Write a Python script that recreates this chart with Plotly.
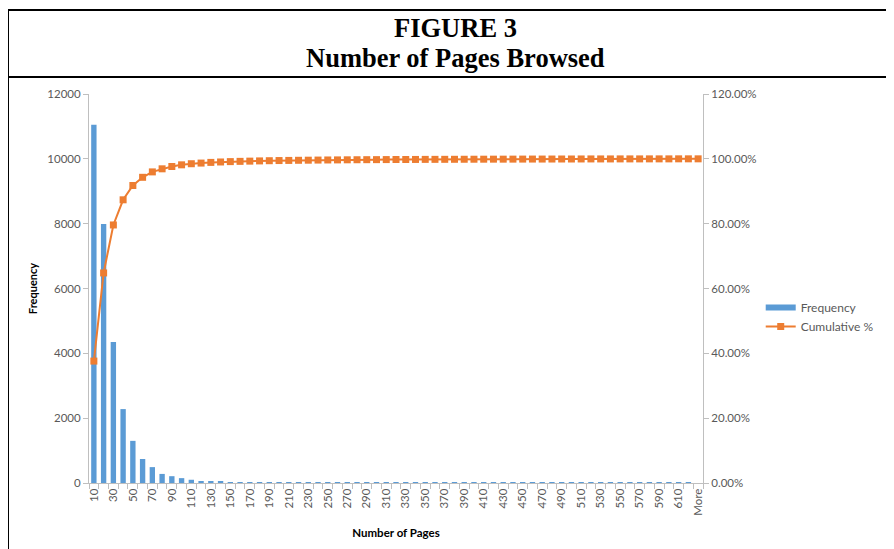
import plotly.graph_objects as go

categories = [str(v) for v in range(10, 630, 10)] + ["More"]

frequency = [11050, 7990, 4350, 2280, 1300, 740, 490, 280, 210, 150,
             100, 60, 60, 40, 30, 25, 20, 20, 18, 15,
             12, 12, 10, 10, 8, 8, 7, 6, 6, 5,
             5, 4, 4, 4, 4, 3, 3, 3, 3, 3,
             3, 3, 2, 2, 2, 2, 2, 2, 2, 2,
             2, 2, 1, 1, 1, 1, 1, 1, 1, 1,
             1, 1, 0]

cumulative_pct = [37.61, 64.80, 79.60, 87.36, 91.78, 94.30, 95.97, 96.92, 97.64, 98.15,
                  98.49, 98.69, 98.90, 99.03, 99.14, 99.22, 99.29, 99.36, 99.42, 99.47,
                  99.51, 99.55, 99.58, 99.62, 99.65, 99.67, 99.70, 99.72, 99.74, 99.75,
                  99.77, 99.79, 99.80, 99.81, 99.83, 99.84, 99.85, 99.86, 99.87, 99.88,
                  99.89, 99.90, 99.90, 99.91, 99.92, 99.93, 99.93, 99.94, 99.95, 99.95,
                  99.96, 99.97, 99.97, 99.97, 99.98, 99.98, 99.98, 99.99, 99.99, 99.99,
                  100.00, 100.00, 100.00]

tick_text = [c if i % 2 == 0 else "" for i, c in enumerate(categories)]

FONT = "Lato, 'Open Sans', sans-serif"
GREY_TXT = "#595959"
AXIS_COL = "#bfbfbf"
BLUE = "#5B9BD5"
ORANGE = "#ED7D31"

# page offset (body margin) compensation
OFF = 8
PL, PR, PT, PB = 89 - OFF, 703 - OFF, 94 - OFF, 483 - OFF
W, H = 894, 549

fig = go.Figure()
fig.add_trace(go.Bar(
    x=categories, y=frequency, name="Frequency",
    marker=dict(color=BLUE, line=dict(width=0)),
    yaxis="y", showlegend=False,
))
# legend entry for the bars (wide rectangle swatch, as in the original)
fig.add_trace(go.Scatter(
    x=[None], y=[None], name="Frequency", mode="lines",
    line=dict(color=BLUE, width=6), yaxis="y", hoverinfo="skip",
))
fig.add_trace(go.Scatter(
    x=categories, y=[v / 100 for v in cumulative_pct], name="Cumulative %",
    mode="lines+markers",
    line=dict(color=ORANGE, width=2),
    marker=dict(symbol="square", size=7, color=ORANGE),
    yaxis="y2",
))

fig.update_layout(
    width=W, height=H,
    margin=dict(l=PL, r=W - PR, t=PT, b=H - PB, autoexpand=False),
    paper_bgcolor="white", plot_bgcolor="white",
    bargap=0.45,
    font=dict(family=FONT, size=11, color=GREY_TXT),
    xaxis=dict(
        type="category", range=[-0.5, len(categories) - 0.5],
        tickmode="array", tickvals=categories, ticktext=tick_text,
        tickangle=-90, tickson="boundaries",
        ticks="outside", ticklen=5, tickcolor=AXIS_COL,
        showline=True, linecolor=AXIS_COL, linewidth=1,
        showgrid=False, zeroline=False,
        tickfont=dict(size=11.5, color=GREY_TXT),
        title=dict(text="<b>Number of Pages</b>", font=dict(size=11.5, color="#000000"), standoff=14),
    ),
    yaxis=dict(
        range=[0, 12000], dtick=2000, tickformat="d",
        ticks="outside", ticklen=5, tickcolor=AXIS_COL,
        showline=True, linecolor=AXIS_COL, linewidth=1,
        showgrid=False, zeroline=False,
        tickfont=dict(size=11.5, color=GREY_TXT),
        title=dict(text="<b>Frequency</b>", font=dict(size=11, color="#000000"), standoff=7),
    ),
    yaxis2=dict(
        range=[0, 1.2], dtick=0.2, tickformat=".2%",
        overlaying="y", side="right",
        ticks="outside", ticklen=5, tickcolor=AXIS_COL,
        showline=True, linecolor=AXIS_COL, linewidth=1,
        showgrid=False, zeroline=False,
        tickfont=dict(size=11.5, color=GREY_TXT),
    ),
    legend=dict(
        x=1.094, y=0.427, xanchor="left", yanchor="middle",
        font=dict(size=12, color=GREY_TXT),
        bgcolor="rgba(0,0,0,0)",
    ),
    showlegend=True,
)

def px_x(px):
    return (px - OFF - PL) / float(PR - PL)

def px_y(py):
    return (PB - (py - OFF)) / float(PB - PT)

line_style = dict(color="#000000", width=2)
fig.add_shape(type="line", xref="paper", yref="paper",
              x0=px_x(8), x1=px_x(910), y0=px_y(10), y1=px_y(10), line=line_style)
fig.add_shape(type="line", xref="paper", yref="paper",
              x0=px_x(8), x1=px_x(910), y0=px_y(77), y1=px_y(77), line=line_style)
fig.add_shape(type="line", xref="paper", yref="paper",
              x0=px_x(8), x1=px_x(8), y0=px_y(10), y1=px_y(570), line=line_style)

TITLE_FONT = dict(family="'Liberation Serif', 'Times New Roman', serif", size=26.5, color="#000000")
fig.add_annotation(
    xref="paper", yref="paper", x=px_x(455), y=px_y(28),
    text="<b>FIGURE 3</b>", showarrow=False, xanchor="center", yanchor="middle",
    font=TITLE_FONT,
)
fig.add_annotation(
    xref="paper", yref="paper", x=px_x(455), y=px_y(58),
    text="<b>Number of Pages Browsed</b>", showarrow=False, xanchor="center", yanchor="middle",
    font=TITLE_FONT,
)

fig.write_html("out.html")
